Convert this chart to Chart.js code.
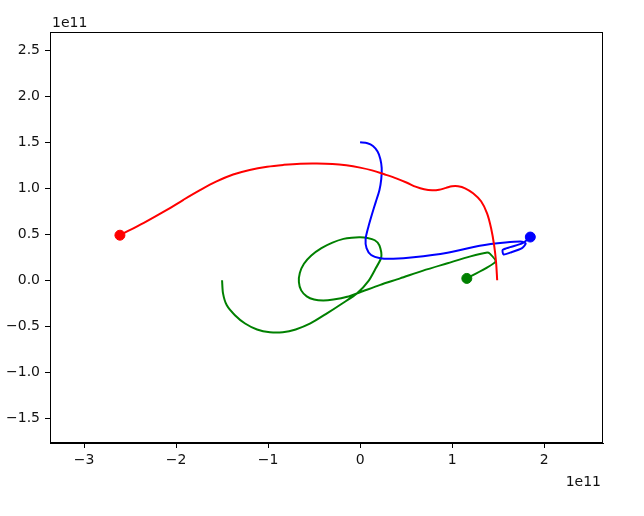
<!DOCTYPE html>
<html>
<head>
<meta charset="utf-8">
<script src="https://cdn.jsdelivr.net/npm/chart.js@4"></script>
<style>
  body { margin: 0; background: #fff; }
  #wrap { width: 644px; height: 516px; }
</style>
</head>
<body>
<div id="wrap"><canvas id="orbitChart" width="644" height="516"></canvas></div>
<script>
// positions in units of 1e11 (the axes show the offset label "1e11")
const redPath = [
    [1.49, 0.00], [1.478, 0.196], [1.457, 0.38], [1.424, 0.565], [1.38, 0.728], [1.315, 0.859],
    [1.228, 0.946], [1.141, 1.00], [1.065, 1.022], [1.00, 1.022], [0.935, 1.005], [0.859, 0.984],
    [0.783, 0.978], [0.696, 0.989], [0.61, 1.015], [0.51, 1.06], [0.40, 1.105], [0.27, 1.15],
    [0.13, 1.195], [0.00, 1.225], [-0.15, 1.25], [-0.30, 1.265], [-0.47, 1.27], [-0.65, 1.268],
    [-0.83, 1.255], [-1.01, 1.235], [-1.20, 1.20], [-1.38, 1.15], [-1.56, 1.075], [-1.74, 0.98],
    [-1.92, 0.875], [-2.10, 0.765], [-2.35, 0.625], [-2.61, 0.49],
];
const bluePath = [
    [0.00, 1.50], [0.08, 1.49], [0.14, 1.46], [0.19, 1.40], [0.22, 1.32], [0.235, 1.22],
    [0.23, 1.10], [0.21, 0.98], [0.17, 0.85], [0.13, 0.72], [0.09, 0.58], [0.06, 0.45],
    [0.07, 0.35], [0.12, 0.275], [0.22, 0.24], [0.36, 0.235], [0.58, 0.25], [0.95, 0.30],
    [1.30, 0.375], [1.58, 0.41], [1.76, 0.42], [1.80, 0.40], [1.76, 0.35], [1.63, 0.30],
    [1.56, 0.28], [1.55, 0.33], [1.63, 0.36], [1.76, 0.40], [1.85, 0.47],
];
const greenPath = [
    [-1.50, 0.00], [-1.49, -0.14], [-1.45, -0.27], [-1.36, -0.38], [-1.25, -0.47], [-1.12, -0.535],
    [-0.98, -0.565], [-0.84, -0.565], [-0.70, -0.535], [-0.54, -0.47], [-0.36, -0.36], [-0.19, -0.25],
    [-0.03, -0.14], [0.09, -0.01], [0.17, 0.13], [0.23, 0.25], [0.21, 0.38], [0.16, 0.435],
    [0.08, 0.46], [0.00, 0.467], [-0.09, 0.463], [-0.18, 0.45], [-0.30, 0.41], [-0.42, 0.35],
    [-0.53, 0.27], [-0.61, 0.18], [-0.655, 0.08], [-0.665, -0.02], [-0.64, -0.11], [-0.58, -0.175],
    [-0.50, -0.21], [-0.40, -0.22], [-0.29, -0.21], [-0.14, -0.18], [0.00, -0.13], [0.22, -0.05],
    [0.435, 0.02], [0.685, 0.105], [0.95, 0.185], [1.20, 0.26], [1.37, 0.30], [1.41, 0.29],
    [1.47, 0.20], [1.16, 0.02],
];
const xTicks = [-3, -2, -1, 0, 1, 2];
const yTicks = [-1.5, -1.0, -0.5, 0.0, 0.5, 1.0, 1.5, 2.0, 2.5];
const xRange = [-3.37, 2.64];
const yRange = [-1.77, 2.70];

const toXY = p => ({ x: p[0], y: p[1] });
const last = arr => [toXY(arr[arr.length - 1])];
const minus = s => s.replace('-', '\u2212');

function pathSet(data, color, tension) {
    return {
        data: data.map(toXY),
        showLine: true,
        borderColor: color,
        borderWidth: 2,
        pointRadius: 0,
        tension: tension,
    };
}
function dotSet(data, color) {
    return {
        data: last(data),
        backgroundColor: color,
        borderColor: color,
        pointRadius: 5,
    };
}

const frame = {
    id: 'frame',
    afterDraw(chart) {
        const { ctx, chartArea: a } = chart;
        ctx.save();
        ctx.strokeStyle = '#000';
        ctx.lineWidth = 1;
        ctx.strokeRect(a.left + 0.5, a.top + 0.5, a.right - a.left - 1, a.bottom - a.top - 1);
        ctx.fillStyle = '#111';
        ctx.font = '14px "DejaVu Sans"';
        ctx.textAlign = 'left';
        ctx.fillText('1e11', a.left + 2, a.top - 5);
        ctx.textAlign = 'right';
        ctx.fillText('1e11', a.right - 2, a.bottom + 43);
        ctx.restore();
    },
};

const ctx = document.getElementById('orbitChart').getContext('2d');
new Chart(ctx, {
    type: 'scatter',
    data: {
        datasets: [
            pathSet(redPath, '#ff0000', 0.35),
            pathSet(bluePath, '#0000ff', 0.25),
            pathSet(greenPath, '#008000', 0.25),
            dotSet(redPath, '#ff0000'),
            dotSet(bluePath, '#0000ff'),
            dotSet(greenPath, '#008000'),
        ],
    },
    options: {
        responsive: false,
        animation: false,
        layout: { padding: { left: 0, top: 32, right: 41, bottom: 43 } },
        plugins: { legend: { display: false }, tooltip: { enabled: false } },
        scales: {
            x: {
                min: xRange[0],
                max: xRange[1],
                afterBuildTicks: s => { s.ticks = xTicks.map(v => ({ value: v })); },
                afterFit: s => { s.height = 30; },
                grid: { drawOnChartArea: false, drawTicks: true, tickLength: 5, color: '#000' },
                border: { color: '#000' },
                ticks: {
                    color: '#111',
                    padding: 4,
                    font: { family: 'DejaVu Sans', size: 14 },
                    callback: v => minus(String(v)),
                },
            },
            y: {
                min: yRange[0],
                max: yRange[1],
                afterBuildTicks: s => { s.ticks = yTicks.map(v => ({ value: v })); },
                afterFit: s => { s.width = 50; },
                grid: { drawOnChartArea: false, drawTicks: true, tickLength: 5, color: '#000' },
                border: { color: '#000' },
                ticks: {
                    color: '#111',
                    padding: 5,
                    font: { family: 'DejaVu Sans', size: 14 },
                    callback: v => minus(v.toFixed(1)),
                },
            },
        },
    },
    plugins: [frame],
});
</script>
</body>
</html>
